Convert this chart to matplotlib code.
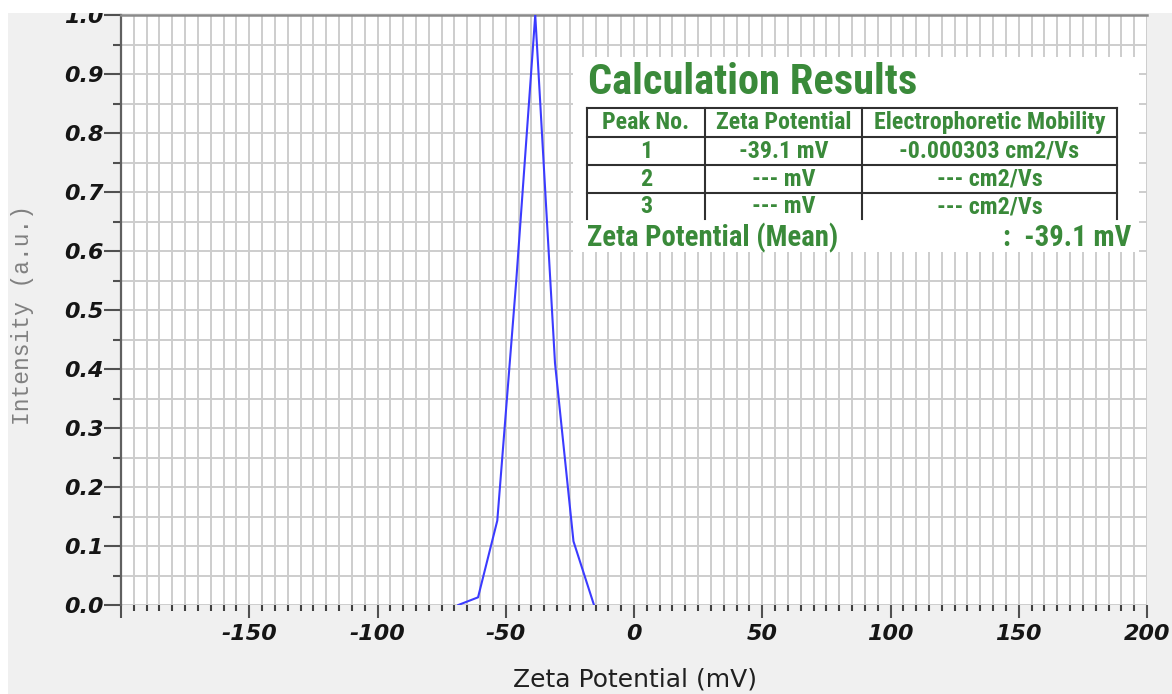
import os
import matplotlib
matplotlib.use('Agg')
import matplotlib.pyplot as plt
from matplotlib import font_manager as fm
from matplotlib.ticker import MultipleLocator, FixedLocator, FixedFormatter
from matplotlib.patches import Rectangle
from matplotlib.lines import Line2D

# ---------------- data ----------------
zeta_mv = [-68.5, -60.8, -53.3, -45.9, -38.5, -30.8, -23.6, -15.6]
intensity = [0.0, 0.013, 0.143, 0.55, 1.0, 0.41, 0.108, 0.0]

x_ticks = [-200, -150, -100, -50, 0, 50, 100, 150, 200]
x_tick_labels = ['', '-150', '-100', '-50', '0', '50', '100', '150', '200']
y_ticks = [0.0, 0.1, 0.2, 0.3, 0.4, 0.5, 0.6, 0.7, 0.8, 0.9, 1.0]
y_tick_labels = ['0.0', '0.1', '0.2', '0.3', '0.4', '0.5', '0.6', '0.7', '0.8', '0.9', '1.0']

x_label = 'Zeta Potential (mV)'
y_label = 'Intensity (a.u.)'

table_title = 'Calculation Results'
table_header = ['Peak No.', 'Zeta Potential', 'Electrophoretic Mobility']
peak_no = ['1', '2', '3']
peak_zeta = ['-39.1 mV', '--- mV', '--- mV']
peak_mobility = ['-0.000303 cm2/Vs', '--- cm2/Vs', '--- cm2/Vs']
mean_label = 'Zeta Potential (Mean)'
mean_value = ':  -39.1 mV'

# ---------------- figure ----------------
W, H = 1172, 694
fig = plt.figure(figsize=(W / 100, H / 100), dpi=100, facecolor='#f0f0f0')


def fx(x):
    return x / W


def fy(y):
    return 1 - y / H


ax = fig.add_axes([fx(121), fy(605), (1147 - 121) / W, (605 - 15) / H])
ax.set_facecolor('white')
ax.plot(zeta_mv, intensity, color='#3b3bff', lw=1.5, zorder=3)
ax.set_xlim(-200, 200)
ax.set_ylim(0, 1)

ax.xaxis.set_major_locator(FixedLocator(x_ticks))
ax.xaxis.set_major_formatter(FixedFormatter(x_tick_labels))
ax.yaxis.set_major_locator(FixedLocator(y_ticks))
ax.yaxis.set_major_formatter(FixedFormatter(y_tick_labels))
ax.xaxis.set_minor_locator(MultipleLocator(5))
ax.yaxis.set_minor_locator(MultipleLocator(0.05))
ax.grid(which='both', color='#cdcdcd', lw=1.4)
ax.set_axisbelow(True)

for lab in ax.get_xticklabels() + ax.get_yticklabels():
    lab.set_fontfamily('DejaVu Sans')
    lab.set_fontweight('bold')
    lab.set_fontstyle('oblique')
    lab.set_fontsize(16)
    lab.set_color('#151515')

ax.tick_params(axis='x', which='major', direction='out', length=9.4, width=1.5,
               color='#505050', pad=4.0)
ax.tick_params(axis='x', which='minor', direction='out', length=4.3, width=1.5,
               color='#404040')
ax.tick_params(axis='y', which='major', direction='out', length=12.2, width=1.5,
               color='#505050', pad=0.5)
ax.tick_params(axis='y', which='minor', direction='out', length=5.8, width=1.5,
               color='#505050')

for s in ('bottom', 'right'):
    ax.spines[s].set_visible(False)
ax.spines['left'].set_color('#606060')
ax.spines['left'].set_linewidth(1.6)
ax.spines['top'].set_color('#8a8a8a')
ax.spines['top'].set_linewidth(1.8)

fig.text(fx(635), fy(680), x_label, ha='center', va='center',
         family='DejaVu Sans', fontsize=18, color='#202020')
fig.text(fx(22), fy(315), y_label, ha='center', va='center', rotation=90,
         family='Liberation Mono', fontsize=16.5, color='#808080')

# ---------------- results table ----------------
def find_narrow_bold():
    best = None
    for f in fm.fontManager.ttflist:
        n = f.name.lower()
        base = os.path.basename(f.fname).lower()
        w = f.weight
        try:
            wnum = int(w)
        except (TypeError, ValueError):
            wnum = 700 if 'bold' in str(w).lower() else 400
        narrow = ('narrow' in n or 'condensed' in n or 'narrow' in base
                  or 'condensed' in base or 'cond' in base)
        if narrow and (wnum >= 600 or 'bold' in base) and 'italic' not in base \
                and 'oblique' not in base and 'light' not in base \
                and 'extra' not in base and 'semi' not in base and 'black' not in base:
            if 'arial' in n:
                score = 6
            elif 'liberation' in n:
                score = 5
            elif 'roboto' in n:
                score = 4
            elif 'noto' in n:
                score = 3
            elif 'open' in n:
                score = 2
            else:
                score = 1
            if best is None or score > best[0]:
                best = (score, f.fname)
    if best:
        return fm.FontProperties(fname=best[1])
    return fm.FontProperties(family='Liberation Sans', weight='bold')


fp = find_narrow_bold()
green = '#3a8a3a'
renderer = fig.canvas.get_renderer()


def fitted_size(s, target_w, size0=20):
    t = fig.text(0, 0, s, fontproperties=fp, fontsize=size0)
    w = t.get_window_extent(renderer).width
    t.remove()
    return size0 * target_w / w


fig.add_artist(Rectangle((fx(573), fy(252)), (1139 - 573) / W, (252 - 57) / H,
                         transform=fig.transFigure, facecolor='white',
                         edgecolor='none', zorder=5))

title_size = fitted_size(table_title, 329)
fig.text(fx(588), fy(82), table_title, fontproperties=fp, fontsize=title_size,
         color=green, ha='left', va='center', zorder=6)

cell_size = fitted_size(table_header[2], 230)
col_edges = [587, 705, 862, 1117]
row_edges = [108, 137, 165, 193]
row_bottom = 219
line_kw = dict(transform=fig.transFigure, color='#303030', lw=1.5, zorder=6)
for yy in row_edges:
    fig.add_artist(Line2D([fx(col_edges[0]), fx(col_edges[-1])], [fy(yy), fy(yy)], **line_kw))
for xx in col_edges:
    fig.add_artist(Line2D([fx(xx), fx(xx)], [fy(row_edges[0]), fy(row_bottom)], **line_kw))

rows = [table_header] + [[a, b, c] for a, b, c in zip(peak_no, peak_zeta, peak_mobility)]
row_centers = [122.5, 151, 179, 206.5]
for r, cells in enumerate(rows):
    for c, s in enumerate(cells):
        cx = (col_edges[c] + col_edges[c + 1]) / 2
        fig.text(fx(cx), fy(row_centers[r]), s, fontproperties=fp, fontsize=cell_size,
                 color=green, ha='center', va='center', zorder=6)

mean_size = fitted_size(mean_label, 251)
fig.text(fx(587), fy(238), mean_label, fontproperties=fp, fontsize=mean_size,
         color=green, ha='left', va='center', zorder=6)
fig.text(fx(1131), fy(238), mean_value, fontproperties=fp, fontsize=mean_size,
         color=green, ha='right', va='center', zorder=6)

# white margins of the captured window
fig.add_artist(Rectangle((0, fy(13)), 1, 13 / H, transform=fig.transFigure,
                         facecolor='white', edgecolor='none', zorder=10))
fig.add_artist(Rectangle((0, 0), 8 / W, 1, transform=fig.transFigure,
                         facecolor='white', edgecolor='none', zorder=10))

fig.savefig('out.png', dpi=100, facecolor=fig.get_facecolor())
